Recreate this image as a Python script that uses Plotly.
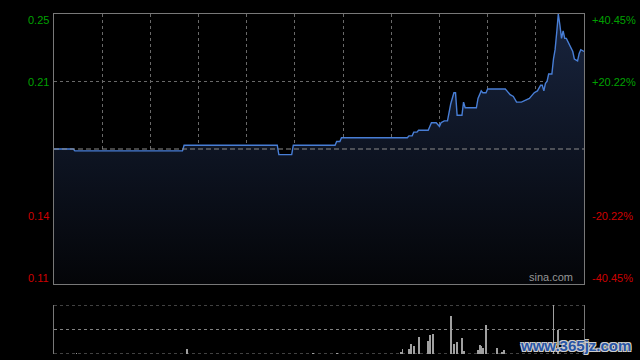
import plotly.graph_objects as go

# ---- data (minutes from open, HK session 330 min) ----
prev_close = 0.178
times = [0, 12, 13, 80, 81, 139, 140, 148, 149, 175, 176, 178, 179, 220, 221, 223, 224, 226, 227, 233,
         235, 238, 240, 241, 243, 245, 247, 249, 250, 251, 254, 255, 256, 263, 264, 266, 267, 269, 270, 281,
         282, 284, 286, 287, 288, 291, 294, 296, 298, 299, 301, 303, 304, 305, 306, 307, 308, 310, 311, 312,
         313, 314, 315, 316, 317, 318, 319, 321, 322, 323, 324, 326, 327, 328, 330]
prices = [0.178, 0.178, 0.177, 0.177, 0.180, 0.180, 0.175, 0.175, 0.180, 0.180, 0.182, 0.182, 0.184, 0.184,
          0.185, 0.185, 0.187, 0.187, 0.188, 0.188, 0.192, 0.192, 0.190, 0.192, 0.193, 0.193, 0.202, 0.208,
          0.208, 0.196, 0.196, 0.203, 0.200, 0.200, 0.205, 0.209, 0.208, 0.208, 0.210, 0.210, 0.209, 0.207,
          0.206, 0.204, 0.203, 0.203, 0.204, 0.205, 0.207, 0.208, 0.209, 0.212, 0.212, 0.209, 0.213, 0.214,
          0.218, 0.218, 0.226, 0.231, 0.240, 0.250, 0.244, 0.237, 0.241, 0.237, 0.237, 0.233, 0.232, 0.230,
          0.226, 0.225, 0.229, 0.231, 0.230]

vol_times = [14, 83, 161, 176, 216, 217, 221, 222, 224, 227, 233, 234, 236, 247, 249, 251, 254, 255,
             264, 265, 266, 267, 269, 276, 279, 280, 311, 314]
volumes = [2, 10, 2, 2, 4, 10, 10, 20, 16, 35, 27, 39, 41, 78, 20, 24, 33, 6,
           8, 18, 16, 12, 59, 12, 4, 8, 100, 49]

pct_levels = [0.4045, 0.2022, -0.2022, -0.4045]
price_labels = ["0.25", "0.21", "0.14", "0.11"]
pct_labels = ["+40.45%", "+20.22%", "-20.22%", "-40.45%"]

# ---- derived scale ----
y_top = prev_close * (1 + pct_levels[0])
y_bot = prev_close * (1 + pct_levels[-1])
grid_vals = [prev_close * (1 + p) for p in pct_levels[1:3]]

GREEN = "rgb(0,160,0)"
RED = "rgb(205,0,0)"
GRID = "rgb(105,105,105)"
BORDER = "rgb(120,120,120)"

fig = go.Figure()

fig.add_trace(go.Scatter(
    x=times, y=prices, mode="lines",
    line=dict(color="rgb(72,126,214)", width=1.4),
    fill="tozeroy",
    fillgradient=dict(type="vertical",
                      colorscale=[[0, "rgb(4,5,8)"], [1, "rgb(24,36,62)"]],
                      start=y_bot, stop=y_top),
    hoverinfo="skip", showlegend=False, xaxis="x", yaxis="y"))

fig.add_trace(go.Bar(
    x=vol_times, y=volumes, width=0.6,
    marker=dict(color="rgb(160,160,160)", line=dict(width=0)),
    hoverinfo="skip", showlegend=False, xaxis="x2", yaxis="y2"))

main_bottom = (354 - 284) / 340
vol_top = (354 - 305) / 340

fig.update_layout(
    width=640, height=360,
    margin=dict(l=54, r=56, t=14, b=6),
    paper_bgcolor="black", plot_bgcolor="black",
    font=dict(family="Liberation Sans, Arial, sans-serif", size=11),
    bargap=0,
    xaxis=dict(domain=[0, 1], range=[0, 330], anchor="y",
               tickvals=list(range(30, 330, 30)), showticklabels=False, ticks="",
               showgrid=True, gridcolor=GRID, griddash="dot", gridwidth=1,
               showline=True, mirror=True, linecolor=BORDER, linewidth=1, zeroline=False),
    yaxis=dict(domain=[main_bottom, 1], range=[y_bot, y_top], anchor="x",
               tickvals=grid_vals, showticklabels=False, ticks="",
               showgrid=True, gridcolor=GRID, griddash="dot", gridwidth=1,
               showline=True, mirror=True, linecolor=BORDER, linewidth=1, zeroline=False),
    xaxis2=dict(domain=[0, 1], range=[0, 330], anchor="y2",
                showticklabels=False, ticks="", showgrid=False, showline=False, zeroline=False),
    yaxis2=dict(domain=[0, vol_top], range=[0, 100], anchor="x2",
                showticklabels=False, ticks="", showgrid=False,
                showline=True, mirror=True, linecolor=BORDER, linewidth=1, zeroline=False),
)

# previous close dashed line
fig.add_shape(type="line", xref="x domain", yref="y", x0=0, x1=1, y0=prev_close, y1=prev_close,
              line=dict(color="rgb(140,140,140)", width=1, dash="5px,3px"))

# volume panel dotted lines
for v in [0, 50, 100]:
    fig.add_shape(type="line", xref="x2 domain", yref="y2", x0=0, x1=1, y0=v, y1=v,
                  line=dict(color="rgb(130,130,130)", width=1.2, dash="dot"), layer="below")

# axis labels
shifts = [-6, 0, 0, 6]
for p, pl, cl, ys in zip(pct_levels, price_labels, pct_labels, shifts):
    col = GREEN if p > 0 else RED
    yv = prev_close * (1 + p)
    fig.add_annotation(xref="paper", yref="y", x=-3 / 530, y=yv, yshift=ys, text=pl,
                       showarrow=False, xanchor="right", yanchor="middle",
                       font=dict(color=col, size=11))
    fig.add_annotation(xref="paper", yref="y", x=1 + 6 / 530, y=yv, yshift=ys, text=cl,
                       showarrow=False, xanchor="left", yanchor="middle",
                       font=dict(color=col, size=11))

fig.add_annotation(xref="x domain", yref="y domain", x=0.983, y=0, yshift=-1, text="sina.com",
                   showarrow=False, xanchor="right", yanchor="bottom",
                   font=dict(color="rgb(150,150,150)", size=11))

fig.add_annotation(xref="paper", yref="paper", x=(575 - 54) / 530, y=(354 - 345) / 340,
                   text="<b>www.365jz.com</b>", showarrow=False, xanchor="center", yanchor="middle",
                   font=dict(color="rgb(40,85,165)", size=15, family="Liberation Sans, Arial",
                             shadow="1px 1px 0 #ccc, -1px -1px 0 #ccc, 1px -1px 0 #ccc, -1px 1px 0 #ccc"))

fig.write_html("out.html")
